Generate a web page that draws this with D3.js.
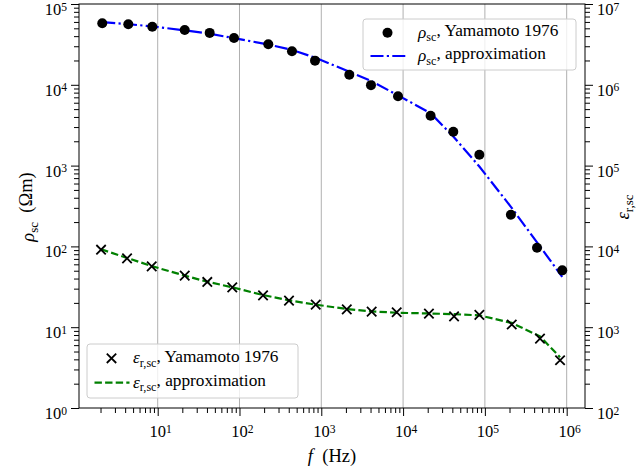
<!DOCTYPE html>
<html><head><meta charset="utf-8">
<script src="https://cdn.jsdelivr.net/npm/d3@7"></script>
<style>
body{margin:0;background:#fff}
svg{display:block}
text{font-family:"Liberation Serif","Times New Roman",serif;fill:#000}
</style>
</head><body>
<svg id="c" width="640" height="471"></svg>
<script>
// ---- data ----
const rhoFreq = [2.10, 4.37, 8.59, 21.4, 43.2, 85.7, 225, 438, 838, 2200, 4050, 8670, 21700, 41100, 85600, 208000, 434000, 883000];
const rhoMeasured = [57700, 56100, 52400, 47700, 43900, 38000, 31800, 26000, 19900, 13300, 9900, 7230, 4130, 2620, 1360, 247, 96.4, 50.5];
const rhoApprox = [59500, 56300, 52800, 47200, 42800, 37800, 31600, 27000, 21700, 14500, 11200, 7400, 4460, 2290, 975, 309, 112, 42];

const epsFreq = [2.03, 4.22, 8.45, 21.4, 40.4, 81.6, 194, 403, 855, 2050, 4130, 8350, 20700, 42000, 85600, 213000, 472000, 830000];
const epsMeasured = [9100, 7110, 5660, 4350, 3630, 3110, 2480, 2130, 1900, 1660, 1560, 1530, 1470, 1360, 1420, 1080, 722, 390];
const epsApprox = [9200, 7200, 5700, 4350, 3650, 3120, 2500, 2150, 1900, 1680, 1570, 1510, 1480, 1450, 1400, 1130, 770, 425];

const xTickExps = [1, 2, 3, 4, 5, 6];
const leftTickExps = [0, 1, 2, 3, 4, 5];
const rightTickExps = [2, 3, 4, 5, 6, 7];

const legendTop = [
  {sym: "rho", label: ", Yamamoto 1976", kind: "dot"},
  {sym: "rho", label: ", approximation", kind: "dashdot"}
];
const legendBottom = [
  {sym: "eps", label: ", Yamamoto 1976", kind: "cross"},
  {sym: "eps", label: ", approximation", kind: "dash"}
];

// ---- layout ----
const L = 79, R = 585, T = 4, B = 408;
const FS = 16.5, LFS = 17.3, AFS = 18.5;
const svg = d3.select("#c");

const x = d3.scaleLog().domain([1.091, 1.675e6]).range([L, R]);
const yL = d3.scaleLog().domain([1, 1e5]).range([B, T]);
const yR = d3.scaleLog().domain([1e2, 1e7]).range([B, T]);

function minorVals(lo, hi) {
  const out = [];
  for (let e = Math.floor(Math.log10(lo)); e <= Math.ceil(Math.log10(hi)); e++)
    for (let m = 2; m <= 9; m++) { const v = m * Math.pow(10, e); if (v >= lo && v <= hi) out.push(v); }
  return out;
}

// gridlines (x major only)
svg.append("g").selectAll("line").data(xTickExps).join("line")
  .attr("x1", d => x(Math.pow(10, d))).attr("x2", d => x(Math.pow(10, d)))
  .attr("y1", T).attr("y2", B).attr("stroke", "#b0b0b0").attr("stroke-width", 1);

// axes ticks via d3 axes
function styleAxis(g) { g.selectAll(".domain").remove(); g.selectAll("text").remove(); g.selectAll("line").attr("stroke", "#000").attr("stroke-width", 1); }
svg.append("g").attr("transform", `translate(0,${B})`)
  .call(d3.axisBottom(x).tickValues(minorVals(1.091, 1.675e6)).tickSize(5)).call(styleAxis);
svg.append("g").attr("transform", `translate(0,${B})`)
  .call(d3.axisBottom(x).tickValues(xTickExps.map(e => Math.pow(10, e))).tickSize(8)).call(styleAxis);
svg.append("g").attr("transform", `translate(${L},0)`)
  .call(d3.axisLeft(yL).tickValues(minorVals(1, 1e5)).tickSize(5)).call(styleAxis);
svg.append("g").attr("transform", `translate(${L},0)`)
  .call(d3.axisLeft(yL).tickValues(leftTickExps.map(e => Math.pow(10, e))).tickSize(8)).call(styleAxis);
svg.append("g").attr("transform", `translate(${R},0)`)
  .call(d3.axisRight(yR).tickValues(minorVals(1e2, 1e7)).tickSize(5)).call(styleAxis);
svg.append("g").attr("transform", `translate(${R},0)`)
  .call(d3.axisRight(yR).tickValues(rightTickExps.map(e => Math.pow(10, e))).tickSize(8)).call(styleAxis);

// spines
svg.append("rect").attr("x", L).attr("y", T).attr("width", R - L).attr("height", B - T)
  .attr("fill", "none").attr("stroke", "#000").attr("stroke-width", 1);

// tick labels
function powLabel(px, py, exp, anchor) {
  const t = svg.append("text").attr("x", px).attr("y", py).attr("text-anchor", anchor).style("font-size", FS + "px");
  t.append("tspan").text("10");
  t.append("tspan").attr("dy", "-0.38em").style("font-size", (FS * 0.7) + "px").text(exp);
}
xTickExps.forEach(e => powLabel(x(Math.pow(10, e)) + 3, 437, e, "middle"));
leftTickExps.forEach(e => powLabel(L - 12, yL(Math.pow(10, e)) + 11, e, "end"));
rightTickExps.forEach(e => powLabel(R + 12, yR(Math.pow(10, e)) + 11, e, "start"));

// rich text helper
function rich(t, parts, size) {
  parts.forEach(p => {
    const s = t.append("tspan").text(p.t);
    if (p.i) s.style("font-style", "italic");
    if (p.sub) s.attr("dy", "0.3em").style("font-size", (size * 0.7) + "px");
    else s.style("font-size", size + "px");
    if (p.back) s.attr("dy", "-0.3em");
  });
}
const rhoSym = [{t: "ρ", i: true}, {t: "sc", sub: true}];
const epsSym = [{t: "ε", i: true}, {t: "r,sc", sub: true}];

// axis labels
rich(svg.append("text").attr("x", (L + R) / 2).attr("y", 462).attr("text-anchor", "middle"),
  [{t: "f", i: true}, {t: "\u00a0\u00a0(Hz)"}], AFS);
rich(svg.append("text").attr("transform", "translate(34,207) rotate(-90)").attr("text-anchor", "middle"),
  rhoSym.concat([{t: "\u00a0\u00a0(Ωm)", back: true}]), AFS);
rich(svg.append("text").attr("transform", "translate(629,207) rotate(-90)").attr("text-anchor", "middle"),
  epsSym, AFS);

// data lines
svg.append("clipPath").attr("id", "pc").append("rect").attr("x", L).attr("y", T).attr("width", R - L).attr("height", B - T);
const lineL = d3.line().x(d => x(d[0])).y(d => yL(d[1]));
const lineR = d3.line().x(d => x(d[0])).y(d => yR(d[1]));
const plot = svg.append("g").attr("clip-path", "url(#pc)");

plot.append("path").datum(rhoFreq.map((f, i) => [f, rhoApprox[i]])).attr("d", lineL)
  .attr("fill", "none").attr("stroke", "#0000ff").attr("stroke-width", 2.2).attr("stroke-dasharray", "13,3.3,2.2,3.3");
plot.selectAll("circle.rho").data(rhoFreq.map((f, i) => [f, rhoMeasured[i]])).join("circle")
  .attr("cx", d => x(d[0])).attr("cy", d => yL(d[1])).attr("r", 5).attr("fill", "#000");

plot.append("path").datum(epsFreq.map((f, i) => [f, epsApprox[i]])).attr("d", lineR)
  .attr("fill", "none").attr("stroke", "#008000").attr("stroke-width", 2.2).attr("stroke-dasharray", "7.4,3.2");
plot.selectAll("path.eps").data(epsFreq.map((f, i) => [f, epsMeasured[i]])).join("path").attr("class", "eps")
  .attr("transform", d => `translate(${x(d[0])},${yR(d[1])})`)
  .attr("d", "M-4.7,-4.7L4.7,4.7M-4.7,4.7L4.7,-4.7").attr("stroke", "#000").attr("stroke-width", 1.8).attr("fill", "none");

// legends
function legend(bx, by, bw, bh, rows, symX, textX, rowY) {
  const g = svg.append("g");
  g.append("rect").attr("x", bx).attr("y", by).attr("width", bw).attr("height", bh).attr("rx", 3)
    .attr("fill", "#fff").attr("fill-opacity", 0.8).attr("stroke", "#cccccc").attr("stroke-width", 1);
  rows.forEach((r, i) => {
    const yy = rowY[i];
    if (r.kind === "dot") g.append("circle").attr("cx", symX).attr("cy", yy).attr("r", 5).attr("fill", "#000");
    if (r.kind === "cross") g.append("path").attr("transform", `translate(${symX},${yy})`)
      .attr("d", "M-4.7,-4.7L4.7,4.7M-4.7,4.7L4.7,-4.7").attr("stroke", "#000").attr("stroke-width", 1.8);
    if (r.kind === "dashdot") g.append("line").attr("x1", symX - 17).attr("x2", symX + 18).attr("y1", yy).attr("y2", yy)
      .attr("stroke", "#0000ff").attr("stroke-width", 2.2).attr("stroke-dasharray", "13,3.3,2.2,3.3");
    if (r.kind === "dash") g.append("line").attr("x1", symX - 17).attr("x2", symX + 18).attr("y1", yy).attr("y2", yy)
      .attr("stroke", "#008000").attr("stroke-width", 2.2).attr("stroke-dasharray", "7.4,3.2");
    const t = g.append("text").attr("x", textX).attr("y", yy + 5);
    rich(t, (r.sym === "rho" ? rhoSym : epsSym).concat([{t: r.label, back: true}]), LFS);
  });
}
legend(363, 19, 213, 51, legendTop, 387.5, 418, [32.7, 56]);
legend(87, 344, 211, 54, legendBottom, 111.5, 133, [358.3, 382.7]);
</script>
</body></html>
